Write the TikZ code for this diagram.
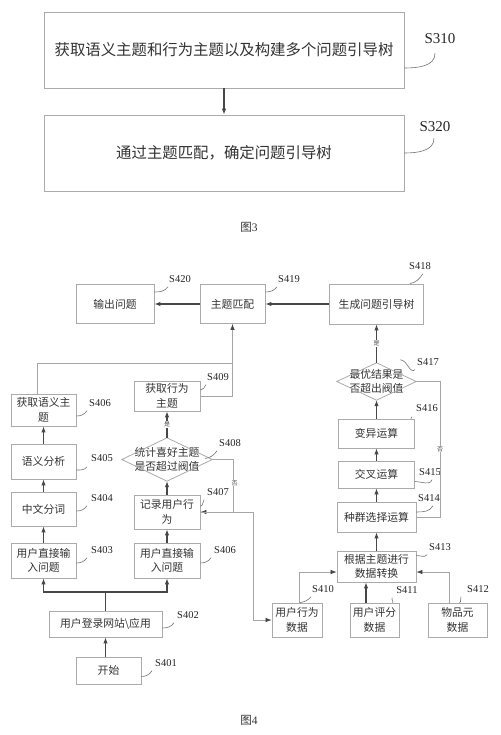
\documentclass[tikz,border=0pt]{standalone}
\usepackage{fontspec}
\setmainfont{Noto Sans CJK SC}
\newfontfamily\labfont{Liberation Serif}
\usetikzlibrary{arrows.meta,calc}
\begin{document}
\begin{tikzpicture}[x=1pt,y=-1pt,
  box/.style={draw=black!33, line width=0.8pt, inner sep=0pt, align=center, text=black!80},
  nobox/.style={inner sep=0pt, align=center, text=black!80},
  boxline/.style={draw=black!33, line width=0.8pt},
  tthree/.style={font=\fontsize{15.4}{19}\selectfont},
  tfour/.style={font=\fontsize{10.8}{14.5}\selectfont},
  lab/.style={font=\labfont\fontsize{10.5}{12}\selectfont, text=black!85, inner sep=0pt},
  biglab/.style={font=\labfont\fontsize{15}{17}\selectfont, text=black!85, inner sep=0pt},
  call/.style={draw=black!55, line width=0.6pt},
  arr/.style={draw=black!72, line width=1.1pt, -{Latex[length=6pt,width=4.5pt]}},
  tline/.style={draw=black!35, line width=0.7pt},
  tarr/.style={tline, -{Latex[length=6pt,width=4.5pt,color=black!72]}},
  small/.style={font=\fontsize{6}{7}\selectfont, inner sep=0.5pt, fill=white, text=black!70},
  captext/.style={font=\fontsize{11.5}{13}\selectfont, text=black!80, inner sep=0pt}
]
\useasboundingbox (0,0) rectangle (500,735);
\fill[white] (0,0) rectangle (500,735);

% ---------- Figure 3 ----------
\node[box,tthree,minimum width=360pt,minimum height=76pt] (s310) at (224,50) {获取语义主题和行为主题以及构建多个问题引导树};
\node[box,tthree,minimum width=360pt,minimum height=76pt] (s320) at (224,153) {通过主题匹配，确定问题引导树};
\node[biglab] (l310) at (440,39) {S310};
\node[biglab] (l320) at (435,127) {S320};
\draw[call] ($(s310.east)+(0,18)$) to[out=0,in=-90] ($(l310.south)+(-5,9)$);
\draw[call] (s320.east) to[out=0,in=-90] ($(l320.south)+(-1,6)$);
\draw[arr] (s310) -- (s320);
\node[captext] (cap3) at (249,227) {图{\labfont 3}};

% ---------- Figure 4 : top row ----------
\node[box,tfour,minimum width=78pt,minimum height=39pt] (out) at (115,304) {输出问题};
\node[box,tfour,minimum width=65pt,minimum height=39pt] (match) at (232.5,304) {主题匹配};
\node[box,tfour,minimum width=94pt,minimum height=40pt] (gen) at (376.5,304) {生成问题引导树};
\draw[arr] (match) -- (out);
\draw[arr] (gen) -- (match);
\node[lab] (l420) at (180,279) {S420};
\node[lab] (l419) at (289,279) {S419};
\node[lab] (l418) at (420,266) {S418};
\draw[call] ($(out.east)+(0,-12)$) to[out=0,in=-125] ($(l420.south west)+(-1,4)$);
\draw[call] ($(match.east)+(0,-12)$) to[out=0,in=-125] ($(l419.south west)+(-1,4)$);
\draw[call] ($(gen.north east)+(-14,0)$) to[out=10,in=-125] ($(l418.south)+(3,4)$);

% ---------- left column ----------
\node[box,tfour,minimum width=65pt,minimum height=32pt] (sem) at (43.5,410) {获取语义主\\题};
\node[box,tfour,minimum width=65pt,minimum height=35pt] (ana) at (43.5,461.5) {语义分析};
\node[box,tfour,minimum width=65pt,minimum height=34pt] (seg) at (43.5,509) {中文分词};
\node[box,tfour,minimum width=65pt,minimum height=35pt] (in1) at (43.5,560.5) {用户直接输\\入问题};
\node[box,tfour,minimum width=113pt,minimum height=26pt] (login) at (105.5,624) {用户登录网站\textbackslash 应用};
\node[box,tfour,minimum width=65pt,minimum height=27pt] (start) at (108.5,670.5) {开始};
\node[lab] (l406a) at (100,403) {S406};
\node[lab] (l405) at (102,458) {S405};
\node[lab] (l404) at (102,498) {S404};
\node[lab] (l403) at (102,550) {S403};
\node[lab] (l402) at (188,615) {S402};
\node[lab] (l401) at (166,663) {S401};
\draw[call] ($(sem.east)+(0,6)$) to[out=0,in=-125] ($(l406a.south west)+(-2,4)$);
\draw[call] ($(ana.east)+(0,8.5)$) to[out=0,in=-125] ($(l405.south west)+(-4,5)$);
\draw[call] ($(seg.east)+(0,2)$) to[out=0,in=-125] ($(l404.south west)+(-4,4)$);
\draw[call] ($(in1.east)+(0,2.5)$) to[out=0,in=-125] ($(l403.south west)+(-4,4)$);
\draw[call] ($(login.east)+(0,4)$) to[out=0,in=-125] ($(l402.south west)+(-3,4)$);
\draw[call] ($(start.east)+(0,6)$) to[out=0,in=-125] ($(l401.south west)+(-3,4)$);
\draw[arr] (in1) -- (seg);
\draw[arr] (seg) -- (ana);
\draw[arr] (ana) -- (sem);

% ---------- middle column ----------
\node[box,tfour,minimum width=66pt,minimum height=30pt] (beh) at (167,396) {获取行为\\主题};
\node[nobox,tfour,minimum width=90pt,minimum height=43pt] (d1) at (167,459.5) {统计喜好主题\\是否超过阀值};
\draw[boxline] (d1.north) -- (d1.east) -- (d1.south) -- (d1.west) -- cycle;
\node[box,tfour,minimum width=66pt,minimum height=34pt] (rec) at (167,512) {记录用户行\\为};
\node[box,tfour,minimum width=66pt,minimum height=35pt] (in2) at (167,560.5) {用户直接输\\入问题};
\node[lab] (l409) at (218,377) {S409};
\node[lab] (l408) at (230,443) {S408};
\node[lab] (l407) at (218,492) {S407};
\node[lab] (l406b) at (225,550) {S406};
\draw[call] ($(beh.east)+(0,-6)$) to[out=0,in=-125] ($(l409.south west)+(-1,4)$);
\draw[call] ($(d1.east)+(-7,-1)$) to[out=10,in=-125] ($(l408.south west)+(-2,4)$);
\draw[call] ($(rec.east)+(0,-6)$) to[out=0,in=-125] ($(l407.south west)+(-3,4)$);
\draw[call] ($(in2.east)+(0,2.5)$) to[out=0,in=-125] ($(l406b.south west)+(-3,4)$);
\draw[arr] (in2) -- (rec);
\draw[arr] (rec) -- (d1);
\draw[arr] (d1.north) -- (beh.south) node[small,midway] {是};

% login split
\coordinate (sp) at (105.5,592);
\draw[arr] (login.north) -- (sp) -| (in1.south);
\draw[arr] (sp) -| (in2.south);
\draw[arr] (login.south |- start.north) -- (login.south);

% to theme matching
\coordinate (jt) at (232.5,363);
\draw[tline] ($(sem.north)+(-6.5,0)$) |- (jt);
\draw[tarr] (beh.east) -| (match.south);

% loop "no" of d1 and link to user behaviour data
\coordinate (c1) at (233,512);
\coordinate (c3) at (253,512);
\draw[tarr] (d1.east) -| (c1) -- (rec.east);
\node[small] (no1) at (234.5,483) {否};

% ---------- right column ----------
\node[nobox,tfour,minimum width=79pt,minimum height=37pt] (d2) at (376.5,381.5) {最优结果是\\否超出阀值};
\draw[boxline] (d2.north) -- (d2.east) -- (d2.south) -- (d2.west) -- cycle;
\node[box,tfour,minimum width=76pt,minimum height=29pt] (mut) at (376.5,433.5) {变异运算};
\node[box,tfour,minimum width=76pt,minimum height=27pt] (cross) at (376.5,474.5) {交叉运算};
\node[box,tfour,minimum width=79pt,minimum height=30pt] (sel) at (376.5,517) {种群选择运算};
\node[box,tfour,minimum width=79pt,minimum height=31pt] (conv) at (376.5,566.5) {根据主题进行\\数据转换};
\node[box,tfour,minimum width=50pt,minimum height=34pt] (ubd) at (297,620) {用户行为\\数据};
\node[box,tfour,minimum width=49pt,minimum height=34pt] (urd) at (374.5,620) {用户评分\\数据};
\node[box,tfour,minimum width=59pt,minimum height=34pt] (item) at (457.5,620) {物品元\\数据};
\node[lab] (l417) at (428,362) {S417};
\node[lab] (l416) at (427,408) {S416};
\node[lab] (l415) at (430,472) {S415};
\node[lab] (l414) at (429,498) {S414};
\node[lab] (l413) at (440,547) {S413};
\node[lab] (l410) at (323,589) {S410};
\node[lab] (l411) at (407,590) {S411};
\node[lab] (l412) at (478,589) {S412};
\draw[call] ($(d2.north east)+(-16,-3)$) to[out=0,in=-140] ($(l417.south west)+(-2,4)$);
\draw[call] ($(mut.north east)+(-4,0)$) to[out=0,in=-130] ($(l416.south west)+(-4,5)$);
\draw[call] ($(cross.east)+(0,7)$) to[out=0,in=-110] ($(l415.south)+(2,4)$);
\draw[call] ($(sel.east)+(0,-5)$) to[out=0,in=-120] ($(l414.south)+(4,4)$);
\draw[call] ($(conv.east)+(0,-11)$) to[out=0,in=-130] ($(l413.south west)+(-2,4)$);
\draw[call] ($(ubd.north)+(3,0)$) to[out=10,in=-130] ($(l410.south west)+(-1,4)$);
\draw[call] ($(urd.north east)+(-7,0)$) to[out=10,in=-130] ($(l411.south west)+(-4,4)$);
\draw[call] ($(item.north)+(2,0)$) to[out=10,in=-130] ($(l412.south west)+(-6,4)$);
\draw[arr] (conv) -- (sel);
\draw[arr] (sel) -- (cross);
\draw[arr] (cross) -- (mut);
\draw[arr] (mut) -- (d2);
\draw[arr] (d2.north) -- (gen.south) node[small,midway] {是};

% loop "no" of d2
\coordinate (c2) at (440,517);
\draw[tline] (d2.east) -| (c2) -- (sel.east);
\node[small] (no2) at (440,449) {否};

% data inputs
\draw[tarr] (rec.east) -- (c3) |- (ubd.west);
\draw[tarr] ($(ubd.north)+(2,0)$) |- ($(conv.west)+(0,5.5)$);
\draw[tarr] ($(item.north)+(-8.5,0)$) |- ($(conv.east)+(0,5.5)$);
\coordinate (u1) at ($(urd.north)+(-8.5,0)$);
\draw[arr] (u1) -- (u1 |- conv.south);

\node[captext] (cap4) at (249,720) {图{\labfont 4}};
\end{tikzpicture}
\end{document}
